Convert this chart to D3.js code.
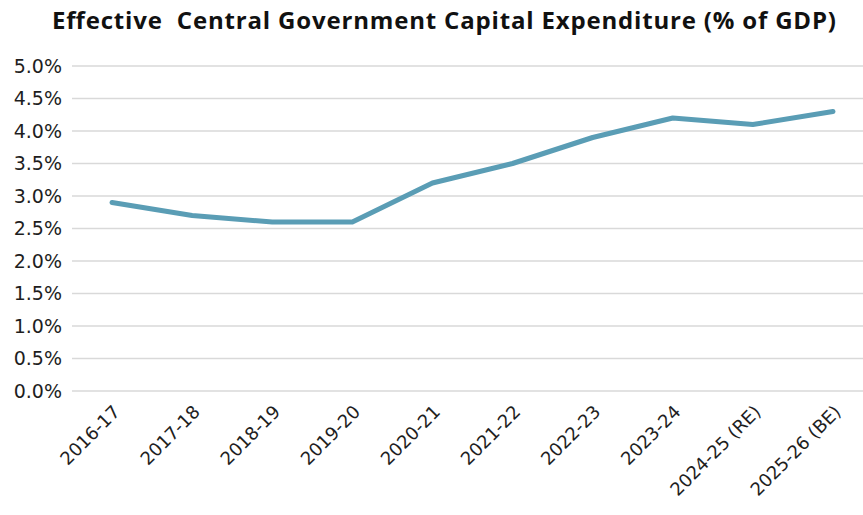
<!DOCTYPE html>
<html>
  <head>
    <title>Effective Central Government Capital Expenditure</title>
    <style type="text/css">
        body{ margin: 0; background: #fff; }
        .grid line{ stroke: #d9d9d9; stroke-width: 1.3px; }
        .axis text{ font-family: "DejaVu Sans", sans-serif; fill: #1e1e1e; }
        .title{ font-family: "Open Sans", sans-serif; font-weight: 700; font-size: 24px; fill: #111; white-space: pre; }
    </style>
  </head>
  <body>
    <div id="chart"></div>
    <script src="https://cdn.jsdelivr.net/npm/d3@7"></script>
    <script>
        var years = ["2016-17", "2017-18", "2018-19", "2019-20", "2020-21", "2021-22",
                     "2022-23", "2023-24", "2024-25 (RE)", "2025-26 (BE)"];
        var capex = [2.9, 2.7, 2.6, 2.6, 3.2, 3.5, 3.9, 4.2, 4.1, 4.3];
        var yTicks = [0, 0.5, 1, 1.5, 2, 2.5, 3, 3.5, 4, 4.5, 5];

        var width = 863, height = 515;
        var svg = d3.select("#chart").append("svg")
            .attr("width", width)
            .attr("height", height);

        var x = d3.scaleBand().domain(years).range([72, 873]);
        var y = d3.scaleLinear().domain([0, 5]).range([391, 66]);

        // title (double space kept as in the original)
        svg.append("text")
            .attr("class", "title")
            .attr("x", 52).attr("y", 29)
            .attr("textLength", 784)
            .attr("lengthAdjust", "spacing")
            .text("Effective  Central Government Capital Expenditure (% of GDP)");

        // gridlines
        svg.append("g").attr("class", "grid")
            .selectAll("line")
            .data(yTicks)
            .enter().append("line")
            .attr("x1", 72).attr("x2", 863)
            .attr("y1", (d) => y(d)).attr("y2", (d) => y(d));

        // y axis labels
        var yAxis = d3.axisLeft(y).tickValues(yTicks)
            .tickFormat((d) => d.toFixed(1) + "%")
            .tickSize(0).tickPadding(10);
        svg.append("g").attr("class", "axis")
            .attr("transform", "translate(72,0)")
            .call(yAxis)
            .call((g) => g.select(".domain").remove())
            .selectAll("text").style("font-size", "19px");

        // x axis labels, rotated
        var xAxis = d3.axisBottom(x).tickSize(0).tickPadding(0);
        svg.append("g").attr("class", "axis")
            .attr("transform", "translate(0,391)")
            .call(xAxis)
            .call((g) => g.select(".domain").remove())
            .selectAll("text")
            .style("font-size", "18px")
            .attr("text-anchor", "end")
            .attr("dy", 0)
            .attr("transform", "translate(9,22) rotate(-45)");

        // line
        var line = d3.line()
            .x((d, i) => x(years[i]) + x.bandwidth() / 2)
            .y((d) => y(d));
        svg.append("path")
            .datum(capex)
            .attr("fill", "none")
            .attr("stroke", "#5a9db5")
            .attr("stroke-width", 5)
            .attr("stroke-linejoin", "round")
            .attr("stroke-linecap", "round")
            .attr("d", line);
    </script>
  </body>
</html>
